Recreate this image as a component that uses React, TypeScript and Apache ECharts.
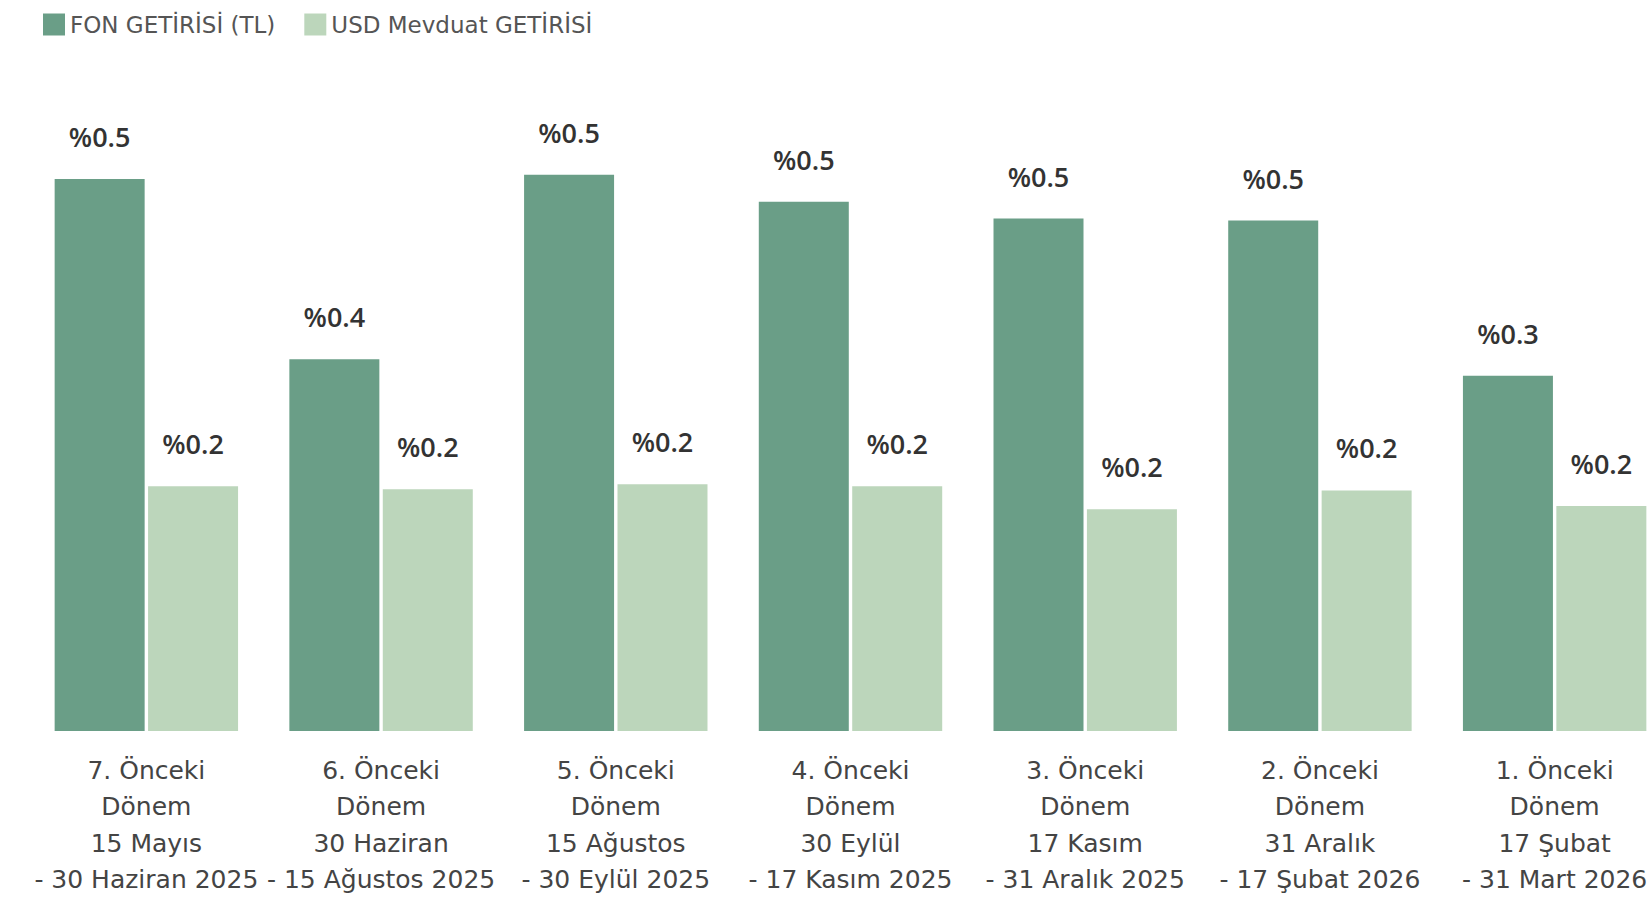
import React, { useEffect, useRef } from "react";
import * as echarts from "echarts";

const categories = [
  "7. Önceki\nDönem\n15 Mayıs\n- 30 Haziran 2025",
  "6. Önceki\nDönem\n30 Haziran\n- 15 Ağustos 2025",
  "5. Önceki\nDönem\n15 Ağustos\n- 30 Eylül 2025",
  "4. Önceki\nDönem\n30 Eylül\n- 17 Kasım 2025",
  "3. Önceki\nDönem\n17 Kasım\n- 31 Aralık 2025",
  "2. Önceki\nDönem\n31 Aralık\n- 17 Şubat 2026",
  "1. Önceki\nDönem\n17 Şubat\n- 31 Mart 2026",
];

const fonGetirisi = [0.53, 0.357, 0.534, 0.508, 0.492, 0.49, 0.341];
const usdMevduat = [0.235, 0.232, 0.237, 0.235, 0.213, 0.231, 0.216];

const seriesNames = ["FON GETİRİSİ (TL)", "USD Mevduat GETİRİSİ"];
const colors = ["#6A9E87", "#BCD6BB"];

const WIDE = "'DejaVu Sans', sans-serif";
const LABEL_FONT = "'Open Sans', 'DejaVu Sans', sans-serif";

export default function App() {
  const ref = useRef<HTMLDivElement>(null);
  useEffect(() => {
    if (!ref.current) return;
    const chart = echarts.init(ref.current, undefined, { renderer: "svg" });
    const labelOpt = {
      show: true,
      position: "top",
      distance: 29,
      fontFamily: LABEL_FONT,
      fontSize: 27,
      fontWeight: 600,
      color: "#333333",
      formatter: (p: any) => "%" + Number(p.value).toFixed(1),
    };
    chart.setOption({
      animation: false,
      backgroundColor: "#ffffff",
      textStyle: { fontFamily: WIDE },
      legend: {
        left: 38,
        top: 8,
        itemWidth: 22,
        itemHeight: 22,
        itemGap: 29,
        icon: "rect",
        textStyle: { fontFamily: WIDE, fontSize: 23, color: "#555555" },
        data: seriesNames,
      },
      grid: { left: 29, width: 1643, top: 106, height: 625, containLabel: false },
      xAxis: {
        type: "category",
        data: categories,
        axisLine: { show: false },
        axisTick: { show: false },
        axisLabel: {
          interval: 0,
          margin: 21,
          fontFamily: WIDE,
          fontSize: 25,
          lineHeight: 36.5,
          color: "#444444",
          align: "center",
        },
      },
      yAxis: {
        type: "value",
        min: 0,
        max: 0.6,
        show: false,
        splitLine: { show: false },
      },
      series: [
        {
          name: seriesNames[0],
          type: "bar",
          data: fonGetirisi,
          barWidth: 90,
          barGap: "3.8%",
          itemStyle: { color: colors[0] },
          label: labelOpt,
        },
        {
          name: seriesNames[1],
          type: "bar",
          data: usdMevduat,
          barWidth: 90,
          barGap: "3.8%",
          itemStyle: { color: colors[1] },
          label: labelOpt,
        },
      ],
    });
    return () => chart.dispose();
  }, []);
  return (
    <div
      style={{
        position: "absolute",
        left: 0,
        top: 0,
        width: 1652,
        height: 900,
        overflow: "hidden",
        background: "#ffffff",
      }}
    >
      <div ref={ref} style={{ width: 1720, height: 900 }} />
    </div>
  );
}
